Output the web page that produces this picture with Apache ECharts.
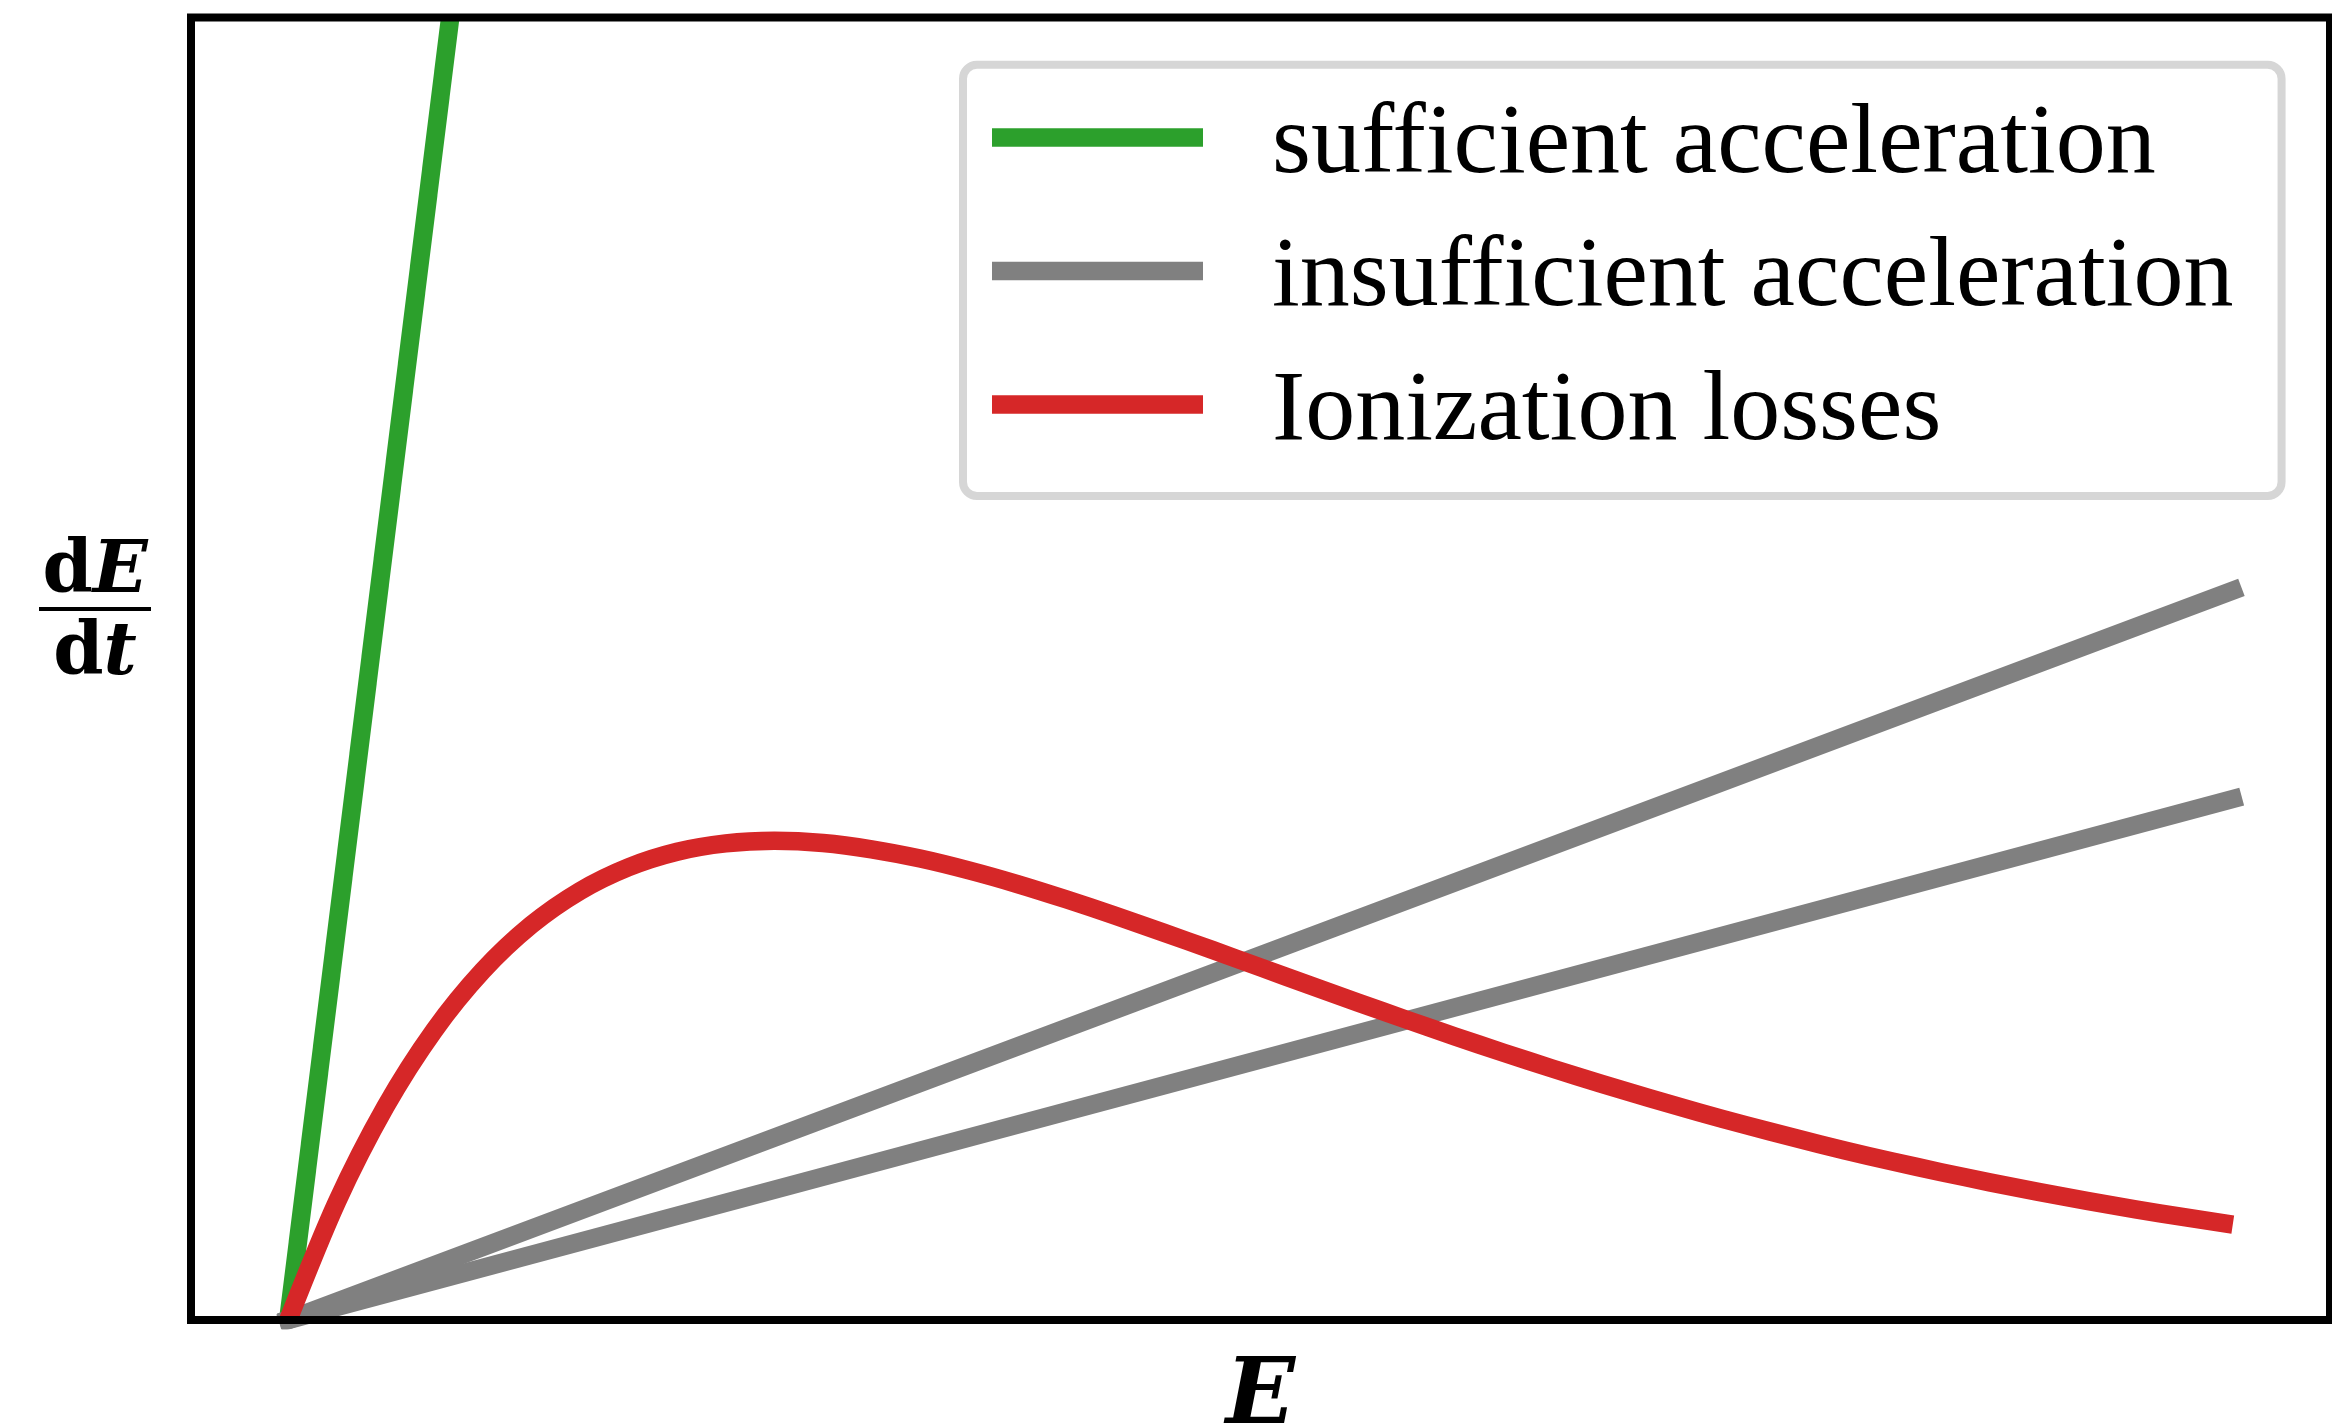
<!DOCTYPE html>
<html>
<head>
<meta charset="utf-8">
<script src="https://cdn.jsdelivr.net/npm/echarts@6/dist/echarts.min.js"></script>
<style>
  html, body { margin: 0; padding: 0; background: #fff; }
  #chart { width: 2332px; height: 1428px; }
</style>
</head>
<body>
<div id="chart"></div>
<script>
// ---- data (arbitrary units, E on x, dE/dt on y) ----
const seriesNames = ['sufficient acceleration', 'insufficient acceleration', 'Ionization losses'];

// sufficient acceleration (visible part up to top of frame)
const sufficientE = [0, 0.0833];
const sufficientRate = [0, 1.0];

// insufficient acceleration (two straight lines)
const insufficientE = [0, 1.0];
const insufficientHigh = [0, 0.560];
const insufficientLow = [0, 0.400];

// ionization losses curve
const ionizationE = [0, 0.025, 0.05, 0.075, 0.1, 0.125, 0.15, 0.175, 0.2, 0.225, 0.25, 0.275, 0.3, 0.325,
  0.35, 0.375, 0.4, 0.425, 0.45, 0.475, 0.5, 0.525, 0.55, 0.575, 0.6, 0.625, 0.65, 0.675, 0.7, 0.725,
  0.75, 0.775, 0.8, 0.825, 0.85, 0.875, 0.9, 0.925, 0.95, 0.975, 1.0];
const ionizationRate = [0, 0.0905, 0.1637, 0.2222, 0.2681, 0.3033, 0.3293, 0.3476, 0.3595, 0.3659, 0.3679, 0.3662,
  0.3614, 0.3543, 0.3452, 0.3347, 0.3230, 0.3106, 0.2975, 0.2842, 0.2707, 0.2572, 0.2438, 0.2306, 0.2177, 0.2052,
  0.1931, 0.1815, 0.1703, 0.1596, 0.1494, 0.1397, 0.1304, 0.1217, 0.1135, 0.1057, 0.0984, 0.0915, 0.0850, 0.0789, 0.0733];

const xRange = [-0.05, 1.05];
const yRange = [0, 1];

function pairs(xs, ys) { return xs.map((x, i) => [x, ys[i]]); }

const GREEN = '#2ca02c', GRAY = '#808080', RED = '#d62728';
const LW = 18.5;

const chart = echarts.init(document.getElementById('chart'), null, { renderer: 'canvas' });
chart.setOption({
  animation: false,
  backgroundColor: '#ffffff',
  grid: {
    left: 191, right: 2, top: 17.5, bottom: 108,
    outerBoundsMode: 'none', containLabel: false,
    show: true, borderColor: '#000', borderWidth: 8, backgroundColor: 'transparent', z: 10
  },
  legend: {
    orient: 'vertical',
    left: 963, top: 64.7,
    data: seriesNames,
    icon: 'rect',
    itemWidth: 211, itemHeight: 18.5, itemGap: 33.5,
    itemStyle: { borderWidth: 0 },
    selectedMode: false,
    padding: [30.8, 48, 33.5, 29],
    backgroundColor: '#ffffff',
    borderColor: '#d6d6d6', borderWidth: 8, borderRadius: 14,
    formatter: '{t|{name}}',
    textStyle: {
      color: '#000',
      padding: [16, 0, 0, 64],
      rich: {
        t: { fontFamily: 'Liberation Serif', fontSize: 100, lineHeight: 100, color: '#000' }
      }
    }
  },
  xAxis: {
    type: 'value', min: xRange[0], max: xRange[1],
    axisLine: { show: false }, axisTick: { show: false }, axisLabel: { show: false }, splitLine: { show: false },
    name: 'E', nameLocation: 'middle', nameGap: 33.5,
    nameTextStyle: { fontFamily: 'DejaVu Serif', fontWeight: 'bold', fontStyle: 'italic', fontSize: 91, lineHeight: 91, color: '#000' }
  },
  yAxis: {
    type: 'value', min: yRange[0], max: yRange[1],
    axisLine: { show: false }, axisTick: { show: false }, axisLabel: { show: false }, splitLine: { show: false },
    name: '{d|d}{i|E}\n{bar| }\n{d2|d}{i2|t}',
    nameLocation: 'middle', nameRotate: 0, nameGap: 40,
    nameTextStyle: {
      padding: [0, 0, 97.5, 0],
      rich: {
        d: { fontFamily: 'DejaVu Serif', fontWeight: 'bold', fontSize: 72, lineHeight: 67, align: 'center', color: '#000' },
        i: { fontFamily: 'DejaVu Serif', fontWeight: 'bold', fontStyle: 'italic', fontSize: 72, lineHeight: 67, align: 'center', color: '#000' },
        bar: { width: 112, height: 4, lineHeight: 4, fontSize: 4, backgroundColor: '#000', align: 'center' },
        d2: { fontFamily: 'DejaVu Serif', fontWeight: 'bold', fontSize: 72, lineHeight: 89, align: 'center', color: '#000' },
        i2: { fontFamily: 'DejaVu Serif', fontWeight: 'bold', fontStyle: 'italic', fontSize: 72, lineHeight: 89, align: 'center', color: '#000' }
      }
    }
  },
  series: [
    {
      type: 'line', name: seriesNames[0], data: pairs(sufficientE, sufficientRate),
      symbol: 'none', lineStyle: { color: GREEN, width: LW, cap: 'butt' }, itemStyle: { color: GREEN }, z: 2
    },
    {
      type: 'line', name: seriesNames[1], data: pairs(insufficientE, insufficientHigh),
      symbol: 'none', lineStyle: { color: GRAY, width: LW, cap: 'square' }, itemStyle: { color: GRAY }, z: 3
    },
    {
      type: 'line', name: seriesNames[1], data: pairs(insufficientE, insufficientLow),
      symbol: 'none', lineStyle: { color: GRAY, width: LW, cap: 'square' }, itemStyle: { color: GRAY }, z: 3
    },
    {
      type: 'line', name: seriesNames[2], data: pairs(ionizationE, ionizationRate),
      symbol: 'none', smooth: 0.3, lineStyle: { color: RED, width: LW, cap: 'butt', join: 'round' }, itemStyle: { color: RED }, z: 4
    }
  ]
});
</script>
</body>
</html>
